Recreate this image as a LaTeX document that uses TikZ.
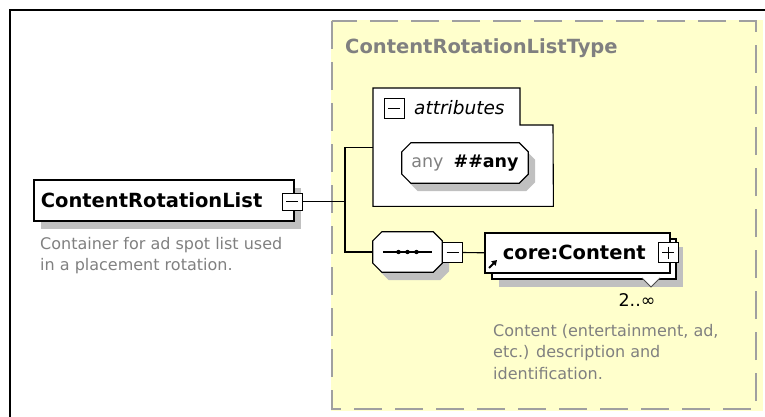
\documentclass[tikz,border=0pt]{standalone}
\usepackage{fontspec}
\setmainfont{DejaVu Sans}
\usetikzlibrary{arrows.meta,shadows}
\definecolor{ink}     {HTML}{000000}
\definecolor{typefill}{HTML}{FFFFCC}
\definecolor{typeline}{HTML}{A0A0A0}
\definecolor{muted}   {HTML}{808080}
\definecolor{shade}   {HTML}{C0C0C0}
\newcommand\namefont{\fontsize{19.5}{23}\selectfont\bfseries}
\newcommand\labelfont{\fontsize{17.5}{21}\selectfont}
\newcommand\notefont{\fontsize{16}{21.5}\selectfont}
\tikzset{
  shadowy/.style={drop shadow={shadow xshift=7pt, shadow yshift=-8pt,
                               fill=shade, opacity=1}},
  elembox/.style={
    rectangle, draw=ink, line width=1.6pt, fill=white,
    inner sep=0pt, minimum height=40pt, font=\namefont
  },
  octbox/.style={rectangle, inner sep=0pt, minimum height=40pt},
  octline/.style={draw=ink, line width=1.2pt, fill=white},
  minusbox/.style={
    rectangle, draw=ink, line width=0.9pt, fill=white, inner sep=0pt,
    minimum width=20pt, minimum height=20pt,
    path picture={\draw[line width=0.9pt]
      ([xshift=4pt]path picture bounding box.west) -- ([xshift=-4pt]path picture bounding box.east);}
  },
  plusbox/.style={
    rectangle, draw=ink, line width=0.9pt, fill=white, inner sep=0pt,
    minimum width=20pt, minimum height=20pt,
    path picture={\draw[line width=0.9pt]
      ([xshift=4pt]path picture bounding box.west) -- ([xshift=-4pt]path picture bounding box.east)
      ([yshift=-4pt]path picture bounding box.north) -- ([yshift=4pt]path picture bounding box.south);}
  },
  wire/.style={draw=ink, line width=1.1pt},
  notetext/.style={font=\notefont, text=muted, align=left, inner sep=0pt, anchor=north west}
}

\begin{document}
\begin{tikzpicture}[x=1pt, y=-1pt]
  \useasboundingbox (0,0) rectangle (765,417);
  \clip (0,0) rectangle (765,417);
  % frame and type area
  \draw[ink, line width=1.5pt] (10,10) rectangle (800,450);
  \fill[typefill] (331,20) rectangle (763,411);
  \draw[typeline, line width=2pt, dash pattern=on 28pt off 13pt] (332,21) rectangle (756,409);
  \node[font=\namefont, text=muted, anchor=west, inner sep=0pt] (typename) at (345,48) {ContentRotationListType};

  % root element
  \node[elembox, shadowy, minimum height=41pt, inner xsep=7pt, text width=246pt, align=left,
        anchor=north west] (root) at (33,179) {ContentRotationList};
  \node[minusbox, minimum height=17pt] (rootminus) at (292,201.5) {};
  \node[notetext] (rootnote) at (40,237) {Container for ad spot list used\\in a placement rotation.};

  % attributes
  \node[minimum width=180pt, minimum height=118pt, anchor=north west, inner sep=0pt] (attrs) at (373,88) {};
  \draw[wire, fill=white] (attrs.north west) -- ++(147,0) -- ++(0,37) -- ++(33,0)
    -- (attrs.south east) -- (attrs.south west) -- cycle;
  \node[minusbox] (attrminus) at (394,108) {};
  \node[font=\fontsize{18.5}{22}\selectfont\itshape, anchor=west, inner sep=0pt] (attrlabel) at (414,108) {attributes};

  % octagons: wildcard and sequence
  \node[octbox, minimum width=126pt] (anyattr) at (465,163) {};
  \node[octbox, minimum width=69pt] (seq) at (407.5,252) {};
  \foreach \o in {anyattr,seq}
    \draw[octline, shadowy] ([xshift=9pt]\o.north west) -- ([xshift=-9pt]\o.north east)
      -- ([yshift=-9pt]\o.north east) -- ([yshift=9pt]\o.south east)
      -- ([xshift=-9pt]\o.south east) -- ([xshift=9pt]\o.south west)
      -- ([yshift=9pt]\o.south west) -- ([yshift=-9pt]\o.north west) -- cycle;
  \node[font=\labelfont, inner sep=0pt] (anylabel) at (anyattr) {{\color{muted}any}\hspace{10pt}\textbf{\#\#any}};
  \draw[line width=1.1pt] ([xshift=10pt]seq.west) -- ([xshift=-10pt]seq.east);
  \foreach \dx in {-9,0,9}
    \fill ([xshift=\dx pt]seq.center) circle (2.2pt);
  \node[minusbox] (seqminus) at (452.5,252.5) {};

  % child element
  \node[elembox, shadowy, minimum width=184pt, anchor=north west] (contentback) at (491,238) {};
  \draw[ink!70, line width=0.9pt, fill=white] (642,278) -- (651,287) -- (660,278);
  \node[elembox, minimum width=185pt, anchor=north west, inner xsep=18pt, text width=149pt, align=left]
    (content) at (484,232) {core:Content};
  \node[plusbox] (contentplus) at (668,252.5) {};
  \draw[line width=1.8pt, -{Triangle[length=5pt, width=6pt]}] (489,268) -- (497,260);
  \node[font=\labelfont, inner sep=0pt] (occurs) at (637,300) {2..∞};
  \node[notetext] (contentnote) at (493,324) {Content (entertainment, ad,\\etc.) description and\\identification.};

  % connectors
  \coordinate (fork) at (345,201.5);
  \draw[wire] (rootminus.east) -- (fork);
  \draw[wire] (attrs.west) -| (fork) |- (seq.west);
  \draw[wire] (seqminus.east) -- (content.west);
\end{tikzpicture}
\end{document}
